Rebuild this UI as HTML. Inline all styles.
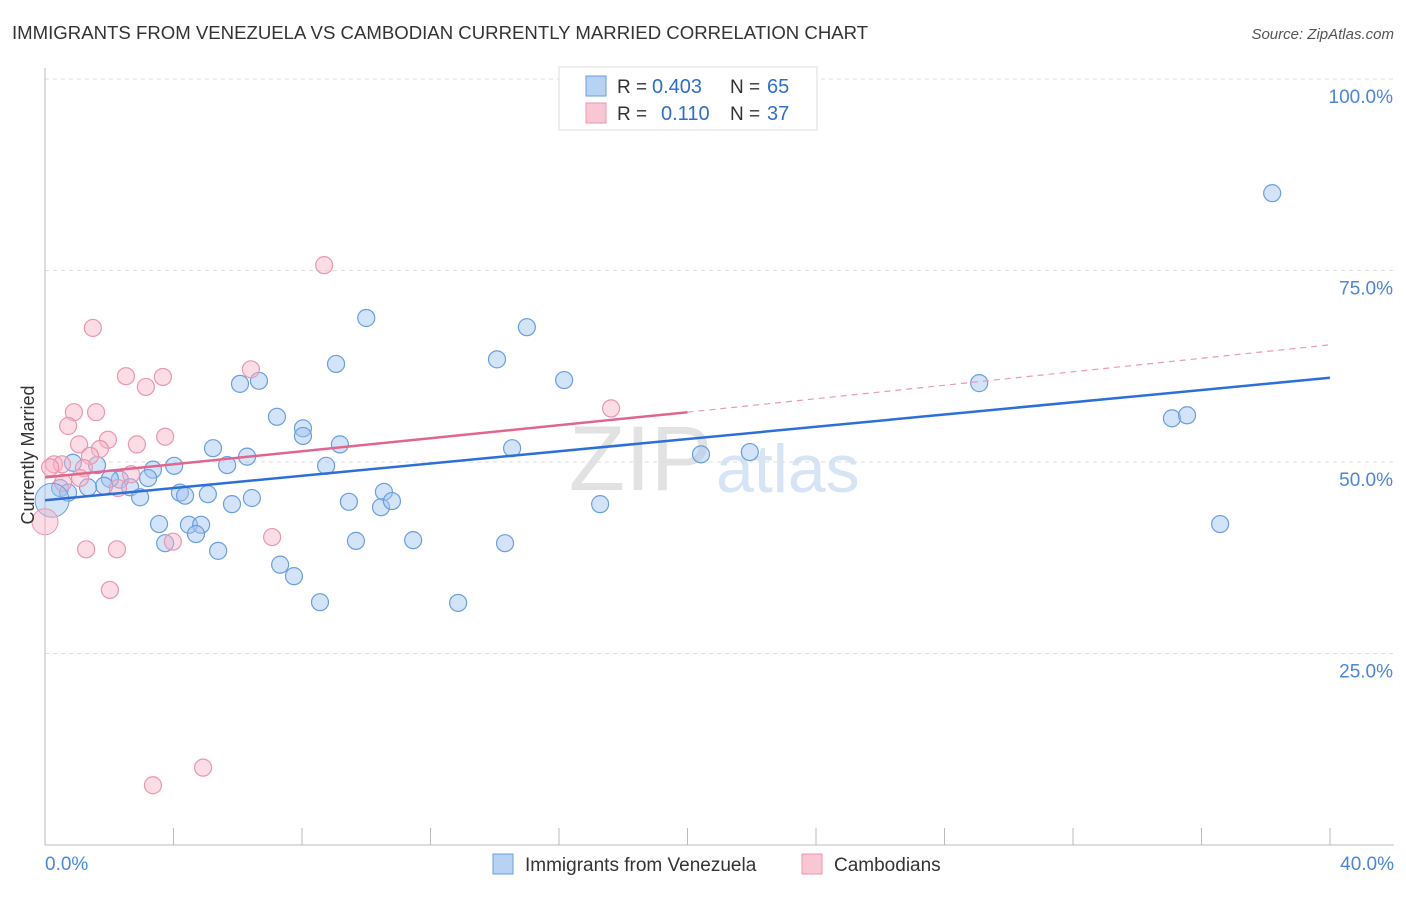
<!DOCTYPE html>
<html><head><meta charset="utf-8"><style>
body{margin:0;background:#fff;font-family:"Liberation Sans",sans-serif}
svg text{font-family:"Liberation Sans",sans-serif}
</style></head><body>
<svg id="chart" width="1406" height="892">
<text x="12" y="39" font-size="18.6" fill="#333">IMMIGRANTS FROM VENEZUELA VS CAMBODIAN CURRENTLY MARRIED CORRELATION CHART</text>
<text x="1394" y="39" font-size="15" fill="#555" font-style="italic" text-anchor="end">Source: ZipAtlas.com</text>
<text x="712" y="490" font-size="92" fill="#e2e2e2" text-anchor="end" font-family="Liberation Serif">ZIP</text>
<text x="716" y="492" font-size="68" fill="#d6e4f6">atlas</text>
<g id="grid"></g>
<g id="axes"></g>
<g id="marks"></g>
<text transform="translate(34,455) rotate(-90)" font-size="18" fill="#333" text-anchor="middle">Currently Married</text>
<g>
<rect x="559" y="67" width="258" height="63" fill="#fff" stroke="#ddd"/>
<rect x="586" y="76" width="20" height="20" fill="#b8d2f4" stroke="#6a9ee0"/>
<rect x="586" y="103" width="20" height="20" fill="#f9c6d4" stroke="#ea96b0"/>
<text x="617" y="93" font-size="19" fill="#333">R =</text>
<text x="652" y="93" font-size="20" fill="#2d6fd0">0.403</text>
<text x="730" y="93" font-size="19" fill="#333">N =</text>
<text x="767" y="93" font-size="20" fill="#2d6fd0">65</text>
<text x="617" y="120" font-size="19" fill="#333">R =</text>
<text x="661" y="120" font-size="20" fill="#2d6fd0">0.110</text>
<text x="730" y="120" font-size="19" fill="#333">N =</text>
<text x="767" y="120" font-size="20" fill="#2d6fd0">37</text>
</g>
<g>
<rect x="493" y="854" width="20" height="20" fill="#b8d2f4" stroke="#6a9ee0"/>
<text x="525" y="871" font-size="19" fill="#333">Immigrants from Venezuela</text>
<rect x="802" y="854" width="20" height="20" fill="#f9c6d4" stroke="#ea96b0"/>
<text x="834" y="871" font-size="19" fill="#333">Cambodians</text>
</g>
</svg>
<script>
const blueX=[38.2,10.0,15.0,9.06,14.07,16.16,6.07,6.66,29.08,7.22,35.08,35.55,8.03,8.03,9.18,14.54,5.23,20.42,21.94,6.29,5.67,4.02,8.75,1.62,3.36,0.87,3.21,2.33,2.02,2.65,1.84,1.34,0.47,0.72,2.96,4.2,4.36,5.07,6.44,5.82,9.46,10.55,10.46,10.8,17.28,3.55,4.48,4.86,4.7,36.58,9.68,11.46,3.74,14.32,5.39,7.32,7.75,8.56,12.86];
const blueY=[85.1,68.8,67.6,62.8,63.4,60.7,60.2,60.6,60.3,55.9,55.7,56.1,54.4,53.4,52.3,51.8,51.8,51.0,51.3,50.7,49.6,49.5,49.5,49.6,49.0,49.9,47.9,47.7,47.8,46.7,46.9,46.7,46.6,46.0,45.4,46.0,45.6,45.8,45.3,44.5,44.8,46.1,44.1,44.9,44.5,41.9,41.8,41.8,40.6,41.9,39.7,39.8,39.4,39.4,38.4,36.6,35.1,31.7,31.6];
const pinkX=[8.69,1.49,6.41,2.52,3.67,3.14,17.62,0.9,1.59,0.72,3.74,1.96,1.06,2.86,1.71,1.4,0.28,0.53,0.16,1.21,2.68,1.09,0.56,2.27,7.07,3.98,1.28,2.24,2.02,4.92,3.36];
const pinkY=[75.7,67.5,62.1,61.2,61.1,59.8,57.0,56.5,56.5,54.7,53.3,52.9,52.3,52.3,51.7,50.8,49.7,49.7,49.3,49.2,48.4,47.9,47.3,46.6,40.2,39.6,38.6,38.6,33.3,10.1,7.8];
const bigBlue=[0.22,45.0], bigPink=[0,42.2];
const blueTrend=[45.0,61.0], pinkTrend=[48.0,56.5,65.3];
const yTicks=[25,50,75,100];
const xTickVals=[0,4,8,12,16,20,24,28,32,36,40];
const NS='http://www.w3.org/2000/svg';
const sx=v=>45+v/40*1285, sy=v=>845-v*7.66;
function mk(t,a,p){const e=document.createElementNS(NS,t);for(const k in a)e.setAttribute(k,a[k]);p.appendChild(e);return e;}
const grid=document.getElementById('grid'),axes=document.getElementById('axes'),marks=document.getElementById('marks');
yTicks.forEach(v=>{
 const l=mk('line',{x1:45,x2:1394,y1:sy(v),y2:sy(v),stroke:'#ddd','stroke-dasharray':'4,4'},grid);
 
 
 const t=mk('text',{x:1393,y:sy(v)+24,'font-size':19,fill:'#4a86dc','text-anchor':'end'},axes);
 t.textContent=v.toFixed(1)+'%';
 
 
});
mk('line',{x1:45,x2:1394,y1:79,y2:79,stroke:'#ddd','stroke-dasharray':'4,4'},grid);
mk('line',{x1:45,x2:45,y1:68,y2:845,stroke:'#bbb'},axes);
mk('line',{x1:45,x2:1394,y1:845,y2:845,stroke:'#bbb'},axes);
xTickVals.forEach(v=>{
 const l=mk('line',{x1:sx(v),x2:sx(v),y1:828,y2:845,stroke:'#bbb'},axes);
 
 
});
[[0,'start',45],[40,'end',1394]].forEach(([v,a,x])=>{
 const t=mk('text',{x:x,y:870,'font-size':19,fill:'#4a86dc','text-anchor':a},axes);
 t.textContent=v.toFixed(1)+'%';
 
 
});
function dots(X,Y,fill,stroke,name){X.forEach((x,i)=>{
 const c=mk('circle',{cx:sx(x),cy:sy(Y[i]),r:8.5,fill:fill,stroke:stroke,'stroke-width':1.2},marks);
 
 
});}
dots(blueX,blueY,'rgba(160,196,240,0.45)','#6a9ee0','venezuela-point');
dots(pinkX,pinkY,'rgba(248,180,200,0.45)','#ea96b0','cambodian-point');
let b=mk('circle',{cx:sx(bigBlue[0]),cy:sy(bigBlue[1]),r:17,fill:'rgba(160,196,240,0.45)',stroke:'#6a9ee0'},marks);


b=mk('circle',{cx:sx(bigPink[0]),cy:sy(bigPink[1]),r:13,fill:'rgba(248,180,200,0.45)',stroke:'#ea96b0'},marks);


let l=mk('line',{x1:sx(0),y1:sy(blueTrend[0]),x2:sx(40),y2:sy(blueTrend[1]),stroke:'#2d6fd8','stroke-width':2.5},marks);


l=mk('line',{x1:sx(0),y1:sy(pinkTrend[0]),x2:sx(20),y2:sy(pinkTrend[1]),stroke:'#e0668f','stroke-width':2.5},marks);


l=mk('line',{x1:sx(20),y1:sy(pinkTrend[1]),x2:sx(40),y2:sy(pinkTrend[2]),stroke:'#e89ab3','stroke-width':1.2,'stroke-dasharray':'6,5'},marks);


</script>
</body></html>
